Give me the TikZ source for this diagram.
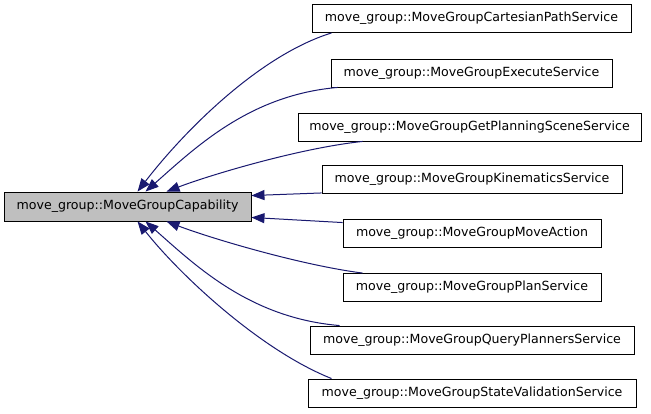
\documentclass[tikz,border=0pt]{standalone}
\usepackage{fontspec}
\setmainfont{DejaVu Sans}
\usetikzlibrary{arrows.meta,calc}
\definecolor{edgeblue}{HTML}{191970}
\definecolor{maingray}{HTML}{BFBFBF}
\tikzset{
  box/.style={draw=black, line width=0.9pt, rectangle, inner sep=0pt, minimum height=28pt,
    font=\fontsize{12.6}{14}\selectfont},
  mainbox/.style={box, fill=maingray},
  edge/.style={draw=edgeblue, line width=1pt, {Triangle[length=13pt,width=10pt]}-},
}
\begin{document}
\begin{tikzpicture}[x=1pt,y=-1pt]
\useasboundingbox[fill=white] (0,0) rectangle (651,413);
\node[mainbox, minimum width=247pt, minimum height=29pt] (m) at (127.5,206.5) {move\_group::MoveGroupCapability};
\node[box, minimum width=319pt] (c1) at (471.5,18.5) {move\_group::MoveGroupCartesianPathService};
\node[box, minimum width=281pt] (c2) at (471.5,73) {move\_group::MoveGroupExecuteService};
\node[box, minimum width=343pt] (c3) at (469.5,127) {move\_group::MoveGroupGetPlanningSceneService};
\node[box, minimum width=300pt] (c4) at (472,179.5) {move\_group::MoveGroupKinematicsService};
\node[box, minimum width=258pt] (c5) at (472,233) {move\_group::MoveGroupMoveAction};
\node[box, minimum width=258pt] (c6) at (472,287.5) {move\_group::MoveGroupPlanService};
\node[box, minimum width=324pt] (c7) at (472,340) {move\_group::MoveGroupQueryPlannersService};
\node[box, minimum width=328pt] (c8) at (472,393) {move\_group::MoveGroupStateValidationService};

\draw[edge] ($(m.north west)+(134,0)$) .. controls (185,130) and (260,55) .. ($(c1.south west)+(20,0)$);
\draw[edge] ($(m.north west)+(142,0)$) .. controls (196,147) and (250,95) .. ($(c2.south west)+(7,0)$);
\draw[edge] ($(m.north west)+(163,0)$) .. controls (210,175) and (300,148) .. ($(c3.south west)+(65,0)$);
\draw[edge] ($(m.north east)+(0,4)$) -- ($(c4.south west)+(0,-1)$);
\draw[edge] ($(m.south east)+(0,-4)$) -- ($(c5.north west)+(0,4)$);
\draw[edge] ($(m.south west)+(163,0)$) .. controls (210,238) and (300,265) .. ($(c6.north west)+(20,0)$);
\draw[edge] ($(m.south west)+(142,0)$) .. controls (196,266) and (250,318) .. ($(c7.north west)+(30,0)$);
\draw[edge] ($(m.south west)+(134,0)$) .. controls (180,275) and (260,350) .. ($(c8.north west)+(24,0)$);
\end{tikzpicture}
\end{document}
